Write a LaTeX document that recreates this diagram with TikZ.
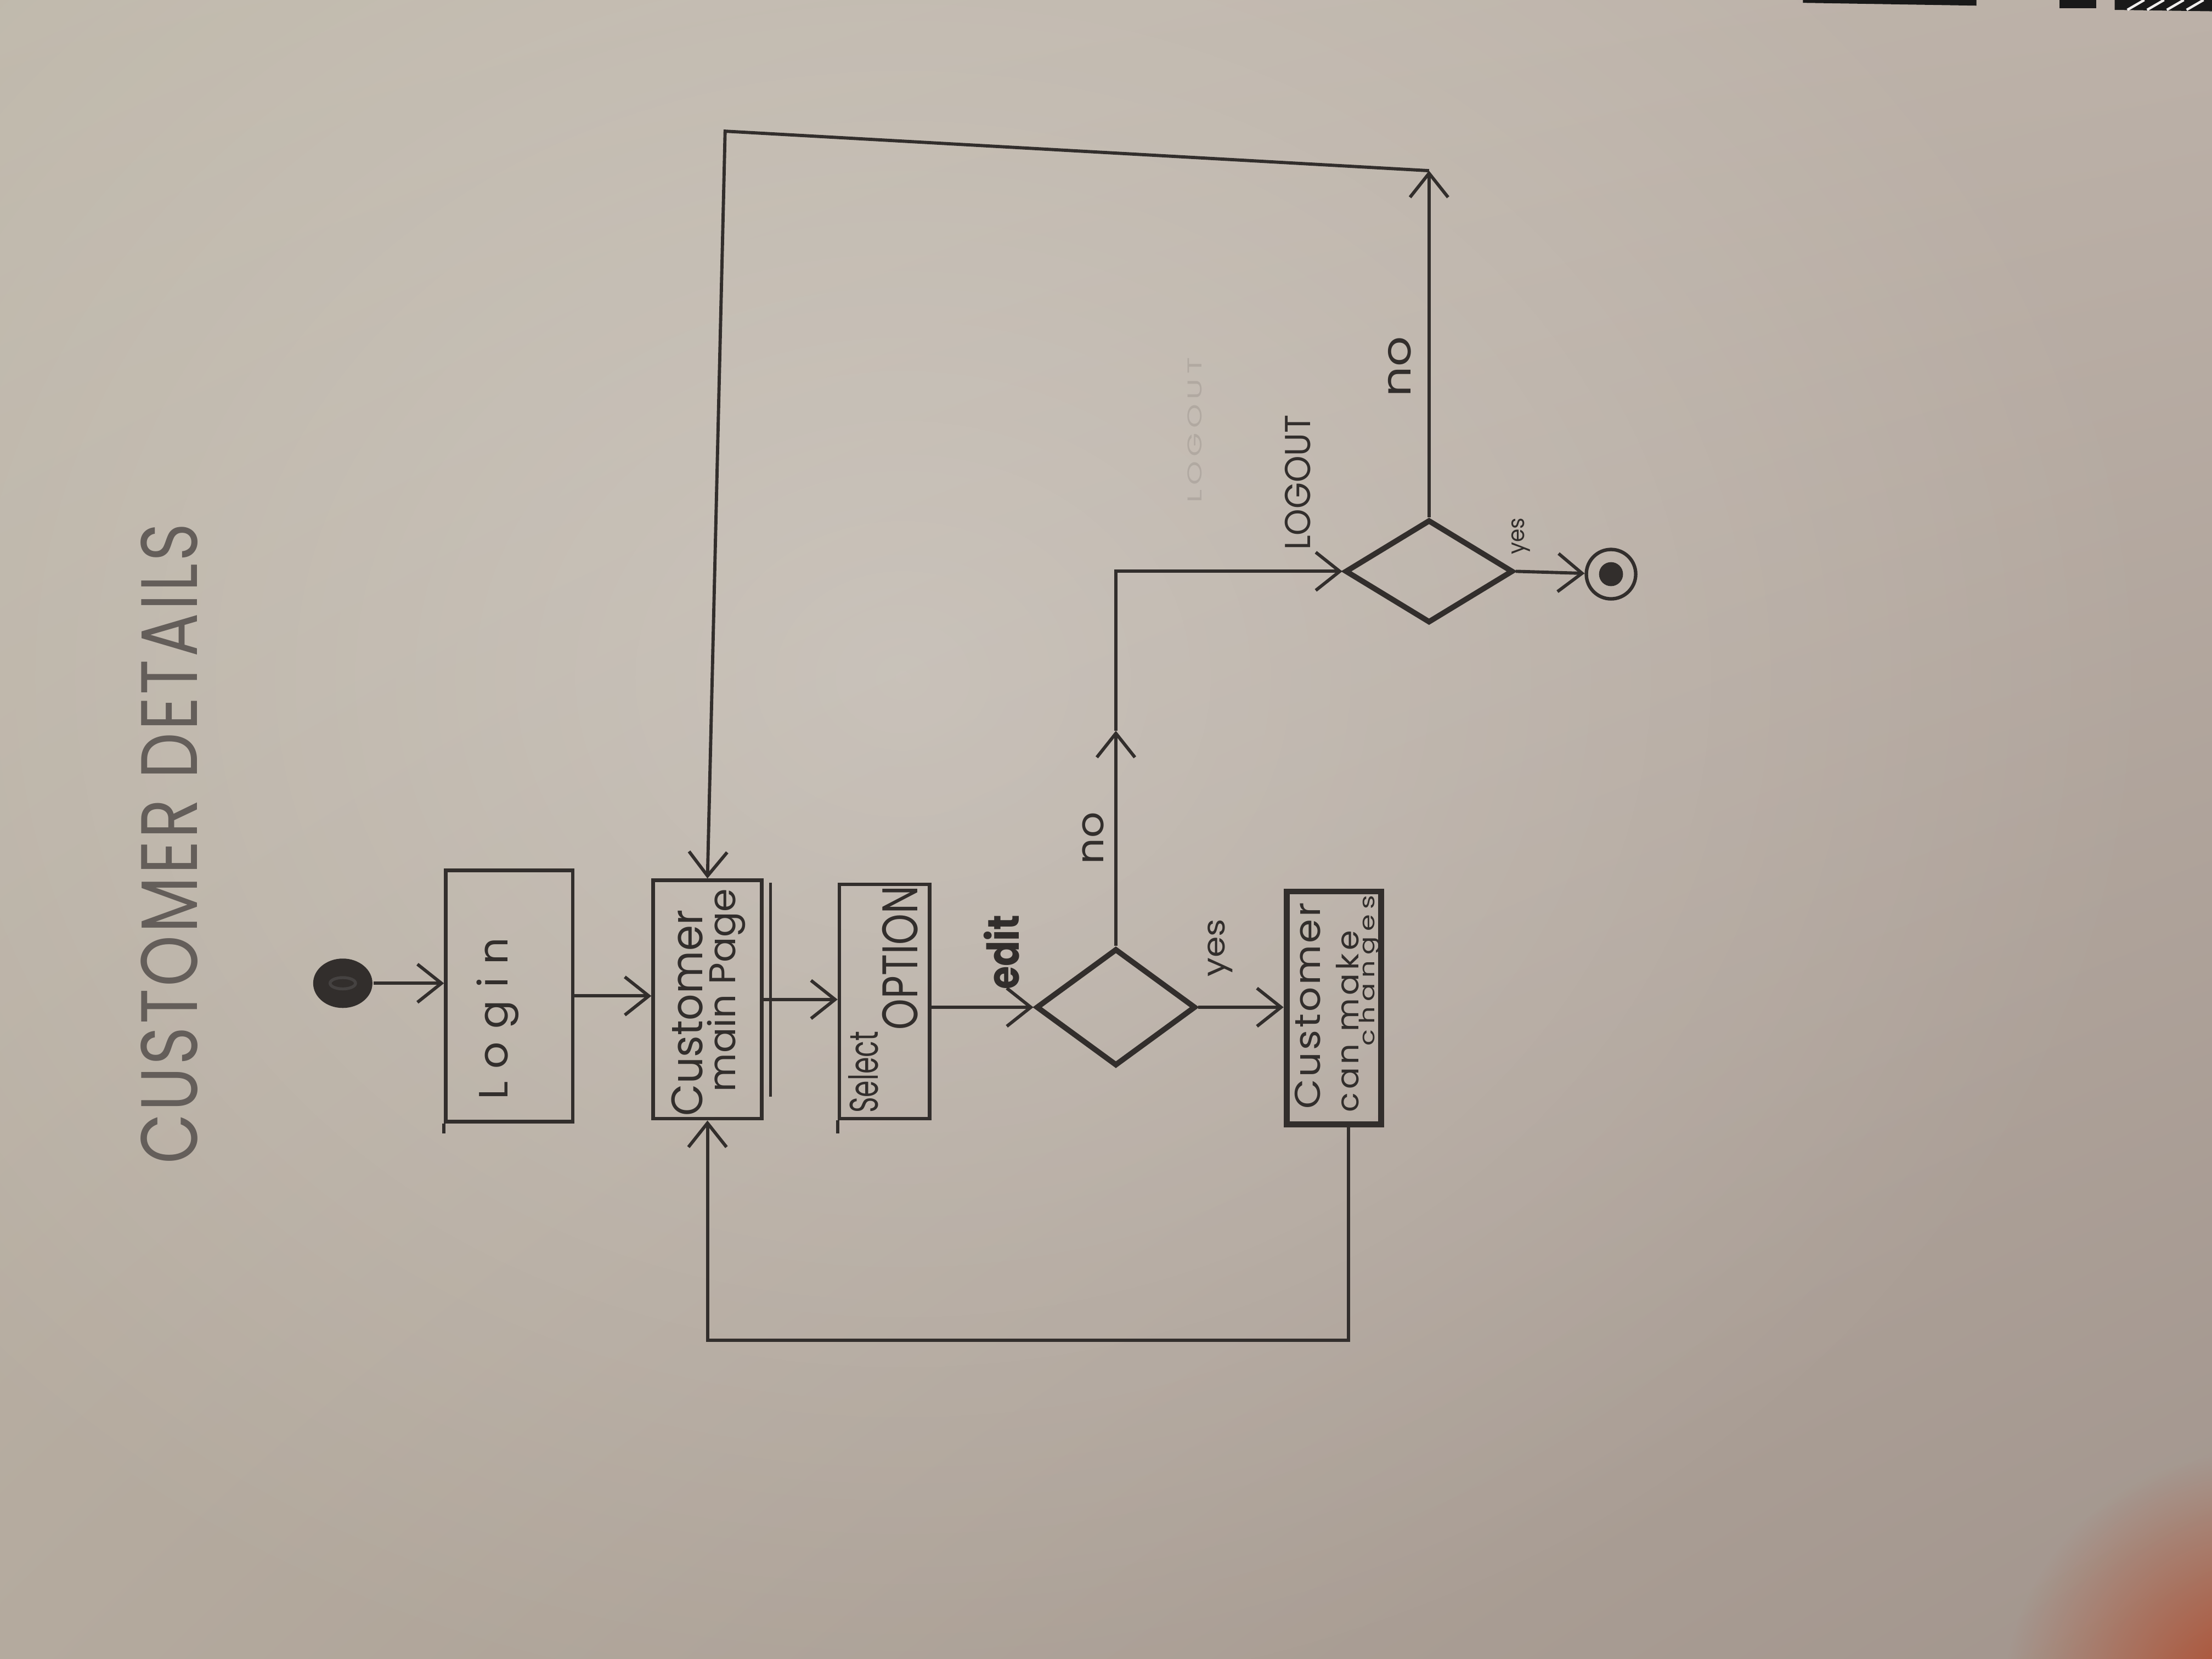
\documentclass[tikz,border=0pt]{standalone}
\usepackage{fontspec}
\setmainfont{Poppins}
\usetikzlibrary{arrows.meta,shapes.geometric,fadings,shadings}
\definecolor{pencil}{RGB}{50,46,44}
\definecolor{softpencil}{RGB}{100,94,90}
\definecolor{paperUL}{RGB}{192,185,172}
\definecolor{paperUR}{RGB}{188,177,168}
\definecolor{paperLL}{RGB}{180,170,158}
\definecolor{paperLR}{RGB}{162,149,141}
\definecolor{stain}{RGB}{176,70,38}
\tikzfading[name=softspot, inner color=transparent!0, outer color=transparent!100]
% hand lettering: width, height above baseline, letter spacing, text
\newcommand{\hw}[4]{\resizebox{#1}{#2}{\addfontfeature{LetterSpace=#3}#4}}

\begin{document}
\begin{tikzpicture}[x=0.01cm, y=-0.01cm,
  flowbox/.style={draw=pencil, rectangle, inner sep=0pt, line width=0.7pt},
  heavybox/.style={flowbox, line width=1.2pt},
  decision/.style={draw=pencil, diamond, inner sep=0pt, line width=1.1pt},
  hand/.style={rotate=90, inner sep=0pt, text=pencil},
  link/.style={draw=pencil, line width=0.65pt},
  arr/.style={link, -{Straight Barb[length=1.7mm, width=2.7mm, line width=0.65pt]}}]

% sheet of paper
\useasboundingbox (0,0) rectangle (1568,1176);
\shade[upper left=paperUL, upper right=paperUR, lower left=paperLL, lower right=paperLR] (0,0) rectangle (1568,1176);
\begin{scope}
  \clip (0,0) rectangle (1568,1176);
  \fill[white, opacity=0.25, path fading=softspot] (640,480) ellipse [x radius=9cm, y radius=7.5cm];
  \fill[stain, path fading=softspot] (1600,1210) circle (1.8cm);
  \fill[black!90] (1278,0) -- (1401,0) -- (1401,4) -- (1278,2) -- cycle;
  \fill[black!90] (1460,0) -- (1486,0) -- (1486,6) -- (1460,6) -- cycle;
  \fill[black!90] (1499,0) -- (1568,0) -- (1568,8) -- (1499,7) -- cycle;
  \foreach \s in {1508,1522,1536,1550}
    \draw[white!80!paperUR, line width=0.5pt] (\s,7) -- (\s+12,0);
\end{scope}

% title
\node[hand, text=softpencil] (title) at (120,598) {\hw{4.54cm}{0.40cm}{4}{CUSTOMER DETAILS}};

% activities
\node[ellipse, fill=pencil, minimum width=0.42cm, minimum height=0.35cm, inner sep=0pt] (start) at (243,697) {};
\draw[gray!25!pencil, line width=0.6pt] (start.center) ellipse [x radius=0.09cm, y radius=0.04cm];

\node[flowbox, minimum width=0.90cm, minimum height=1.78cm] (login) at (361,706) {};
\node[hand] (tlogin) at (353,722) {\hw{1.15cm}{0.22cm}{30}{Login}};

\node[flowbox, minimum width=0.77cm, minimum height=1.69cm] (main) at (501.5,708.5) {};
\node[hand] (tmain1) at (487,718) {\hw{1.46cm}{0.22cm}{0}{Customer}};
\node[hand] (tmain2) at (515,702) {\hw{1.44cm}{0.20cm}{0}{main Page}};

\node[flowbox, minimum width=0.64cm, minimum height=1.66cm] (select) at (627,710) {};
\node[hand] (tsel1) at (612,760) {\hw{0.58cm}{0.21cm}{0}{Select}};
\node[hand] (tsel2) at (638,679) {\hw{1.02cm}{0.25cm}{0}{OPTION}};

\node[decision, minimum width=1.13cm, minimum height=0.83cm] (d1) at (791,714) {};

\node[heavybox, minimum width=0.67cm, minimum height=1.65cm] (change) at (945.5,714.5) {};
\node[hand] (tch1) at (927,713) {\hw{1.46cm}{0.18cm}{5}{Customer}};
\node[hand] (tch2) at (955,724) {\hw{1.29cm}{0.16cm}{10}{can make}};
\node[hand] (tch3) at (971,688) {\hw{1.07cm}{0.11cm}{20}{changes}};

\node[decision, minimum width=1.19cm, minimum height=0.73cm] (d2) at (1013,405) {};

\node[circle, draw=pencil, line width=0.7pt, minimum size=0.35cm, inner sep=0pt] (end) at (1142,407) {};
\fill[pencil] (end.center) circle (0.085cm);

% guard labels
\node[hand] (ledit) at (710,675) {\hw{0.53cm}{0.25cm}{0}{\bfseries edit}};
\node[hand] (lyes1) at (865,672) {\hw{0.41cm}{0.12cm}{0}{yes}};
\node[hand] (lno1) at (775,594) {\hw{0.37cm}{0.15cm}{0}{no}};
\node[hand] (llogout) at (920,342) {\hw{0.96cm}{0.18cm}{0}{LOGOUT}};
\node[hand, opacity=0.13] (lerased) at (847,305) {\hw{1.03cm}{0.10cm}{15}{LOGOUT}};
\node[hand] (lno2) at (992,260) {\hw{0.43cm}{0.16cm}{0}{no}};
\node[hand] (lyes2) at (1078,380) {\hw{0.26cm}{0.09cm}{0}{yes}};

% stray pencil strokes on the boxes
\draw[link] (login.south west) -- ++(0,7);
\draw[link] (select.south west) -- ++(0,9);
\draw[link, line width=0.5pt] ([xshift=0.05cm, yshift=-0.03cm]main.north east) -- ([xshift=0.05cm, yshift=0.17cm]main.south east);

% flow
\coordinate (midY) at (0,518);
\coordinate (topY) at (0,121);
\coordinate (tL) at (514,93);
\coordinate (bR) at (956,950);

\draw[arr] (start.east) -- (start.east -| login.west);
\draw[arr] (login.east) -- (login.east -| main.west);
\draw[arr] (main.east) -- (main.east -| select.west);
\draw[arr] (select.east |- d1.west) -- (d1.west);
\draw[arr] (d1.east) -- (d1.east -| change.west);
\draw[arr] (d1.north) -- (d1.north |- midY);
\draw[arr] (d1.north |- midY) -- (d1.north |- d2.west) -- (d2.west);
\draw[arr] (d2.east) -- (end);
\draw[arr] (d2.north) -- (d2.north |- topY);
\draw[arr] (d2.north |- topY) -- (tL) -- (main.north);
\draw[arr] (change.south -| bR) -- (bR) -- (main.south |- bR) -- (main.south);

\end{tikzpicture}
\end{document}
